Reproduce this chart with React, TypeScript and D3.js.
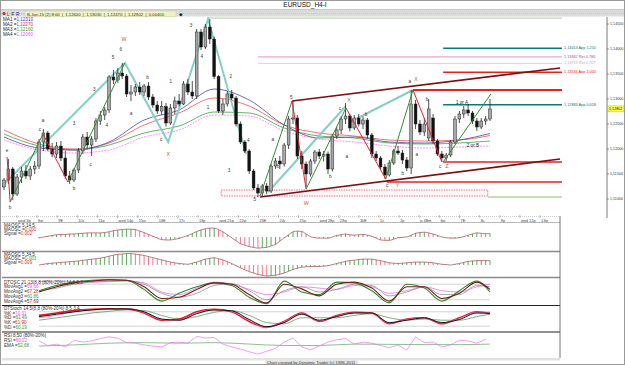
import React from 'react';
import * as d3 from 'd3';

// H4 candles: [open, high, low, close]
const candles: number[][] = [
  [1.1124, 1.1142, 1.1118, 1.1138], [1.1138, 1.1180, 1.1130, 1.1160], [1.1160, 1.1164, 1.1098, 1.1110],
  [1.1110, 1.1150, 1.1106, 1.1144], [1.1144, 1.1164, 1.1132, 1.1156], [1.1156, 1.1168, 1.1140, 1.1146],
  [1.1146, 1.1166, 1.1138, 1.1160], [1.1160, 1.1176, 1.1150, 1.1166], [1.1166, 1.1220, 1.1160, 1.1214],
  [1.1214, 1.1240, 1.1196, 1.1232], [1.1232, 1.1236, 1.1196, 1.1200], [1.1200, 1.1212, 1.1184, 1.1190],
  [1.1190, 1.1214, 1.1182, 1.1206], [1.1206, 1.1216, 1.1176, 1.1182], [1.1182, 1.1196, 1.1140, 1.1146],
  [1.1146, 1.1156, 1.1130, 1.1138], [1.1138, 1.1162, 1.1134, 1.1158], [1.1158, 1.1202, 1.1152, 1.1196],
  [1.1196, 1.1230, 1.1190, 1.1224], [1.1224, 1.1234, 1.1200, 1.1208], [1.1208, 1.1226, 1.1186, 1.1220],
  [1.1220, 1.1262, 1.1214, 1.1256], [1.1256, 1.1276, 1.1248, 1.1268], [1.1268, 1.1284, 1.1258, 1.1278],
  [1.1278, 1.1348, 1.1272, 1.1344], [1.1344, 1.1358, 1.1330, 1.1338], [1.1338, 1.1362, 1.1332, 1.1352],
  [1.1352, 1.1372, 1.1340, 1.1346], [1.1346, 1.1350, 1.1304, 1.1310], [1.1310, 1.1328, 1.1296, 1.1314],
  [1.1314, 1.1330, 1.1306, 1.1324], [1.1324, 1.1334, 1.1308, 1.1314], [1.1314, 1.1330, 1.1306, 1.1326],
  [1.1326, 1.1334, 1.1298, 1.1304], [1.1304, 1.1310, 1.1282, 1.1288], [1.1288, 1.1296, 1.1270, 1.1276],
  [1.1276, 1.1296, 1.1268, 1.1285], [1.1285, 1.1292, 1.1245, 1.1252], [1.1252, 1.1290, 1.1248, 1.1282],
  [1.1282, 1.1305, 1.1270, 1.1296], [1.1296, 1.1310, 1.1285, 1.1290], [1.1290, 1.1336, 1.1288, 1.1330],
  [1.1330, 1.1340, 1.1308, 1.1314], [1.1314, 1.1336, 1.1300, 1.1306], [1.1306, 1.1440, 1.1300, 1.1434],
  [1.1434, 1.1440, 1.1398, 1.1404], [1.1404, 1.1450, 1.1400, 1.1444], [1.1444, 1.1460, 1.1410, 1.1420],
  [1.1420, 1.1425, 1.1340, 1.1345], [1.1345, 1.1348, 1.1272, 1.1276], [1.1276, 1.1300, 1.1268, 1.1290],
  [1.1290, 1.1316, 1.1285, 1.1310], [1.1310, 1.1318, 1.1298, 1.1302], [1.1302, 1.1306, 1.1245, 1.1250],
  [1.1250, 1.1255, 1.1210, 1.1214], [1.1214, 1.1218, 1.1192, 1.1196], [1.1196, 1.1200, 1.1150, 1.1156],
  [1.1156, 1.1160, 1.1118, 1.1122], [1.1122, 1.1130, 1.1104, 1.1112], [1.1112, 1.1130, 1.1104, 1.1126],
  [1.1126, 1.1132, 1.1110, 1.1116], [1.1116, 1.1170, 1.1112, 1.1166], [1.1166, 1.1182, 1.1160, 1.1176],
  [1.1176, 1.1186, 1.1160, 1.1170], [1.1170, 1.1212, 1.1165, 1.1208], [1.1208, 1.1266, 1.1200, 1.1260],
  [1.1260, 1.1296, 1.1250, 1.1262], [1.1262, 1.1268, 1.1180, 1.1186], [1.1186, 1.1196, 1.1160, 1.1170],
  [1.1170, 1.1175, 1.1124, 1.1150], [1.1150, 1.1180, 1.1145, 1.1176], [1.1176, 1.1198, 1.1170, 1.1194],
  [1.1194, 1.1200, 1.1180, 1.1186], [1.1186, 1.1196, 1.1175, 1.1190], [1.1190, 1.1195, 1.1150, 1.1160],
  [1.1160, 1.1230, 1.1155, 1.1226], [1.1226, 1.1245, 1.1220, 1.1238], [1.1238, 1.1266, 1.1230, 1.1260],
  [1.1260, 1.1292, 1.1250, 1.1266], [1.1266, 1.1270, 1.1235, 1.1242], [1.1242, 1.1268, 1.1238, 1.1262],
  [1.1262, 1.1270, 1.1245, 1.1250], [1.1250, 1.1265, 1.1240, 1.1258], [1.1258, 1.1262, 1.1222, 1.1228],
  [1.1228, 1.1232, 1.1182, 1.1190], [1.1190, 1.1196, 1.1176, 1.1182], [1.1182, 1.1186, 1.1160, 1.1164],
  [1.1164, 1.1170, 1.1140, 1.1148], [1.1148, 1.1178, 1.1145, 1.1172], [1.1172, 1.1200, 1.1168, 1.1196],
  [1.1196, 1.1206, 1.1188, 1.1192], [1.1192, 1.1198, 1.1170, 1.1178], [1.1178, 1.1184, 1.1156, 1.1162],
  [1.1162, 1.1318, 1.1150, 1.1290], [1.1290, 1.1298, 1.1240, 1.1250], [1.1250, 1.1258, 1.1228, 1.1234],
  [1.1234, 1.1262, 1.1226, 1.1250], [1.1222, 1.1300, 1.1216, 1.1280], [1.1262, 1.1270, 1.1210, 1.1216],
  [1.1216, 1.1220, 1.1186, 1.1190], [1.1190, 1.1196, 1.1174, 1.1182], [1.1182, 1.1192, 1.1176, 1.1188],
  [1.1188, 1.1218, 1.1184, 1.1214], [1.1214, 1.1266, 1.1210, 1.1260], [1.1260, 1.1276, 1.1252, 1.1270],
  [1.1270, 1.1286, 1.1262, 1.1278], [1.1278, 1.1290, 1.1266, 1.1272], [1.1272, 1.1276, 1.1250, 1.1256],
  [1.1256, 1.1262, 1.1236, 1.1244], [1.1244, 1.1262, 1.1240, 1.1256], [1.1256, 1.1266, 1.1248, 1.1260],
  [1.1260, 1.1300, 1.1256, 1.1280],
];

// moving averages, read every 8 bars
const maIdx = [0, 8, 16, 24, 32, 40, 48, 56, 64, 72, 80, 88, 96, 104, 111];
const ma1 = [1.1224, 1.1202, 1.1198, 1.1214, 1.1258, 1.1278, 1.1320, 1.1298, 1.1248, 1.1222, 1.1224, 1.1214, 1.1212, 1.1218, 1.1231];
const ma2 = [1.1238, 1.1210, 1.1200, 1.1212, 1.1248, 1.1272, 1.1302, 1.1286, 1.1248, 1.1232, 1.1226, 1.1218, 1.1216, 1.1218, 1.1227];
const ma3 = [1.1230, 1.1206, 1.1198, 1.1208, 1.1232, 1.1246, 1.1274, 1.1272, 1.1242, 1.1226, 1.1222, 1.1212, 1.1210, 1.1212, 1.1216];
const ma4 = [1.1218, 1.1198, 1.1192, 1.1198, 1.1224, 1.1238, 1.1268, 1.1266, 1.1236, 1.1220, 1.1214, 1.1206, 1.1202, 1.1204, 1.1206];

const priceTicks = [1.145, 1.14, 1.135, 1.13, 1.125, 1.12, 1.115, 1.11];
const lastPrice = 1.12802;

const dayLabels = ['wed 3p', '8w', '9E', '10c', '11p', 'wed 14p', '15w', '16E', '17c', '18p', 'wed 21p', '22w', '23E',
  '24c', '25p', 'wed 28p', '29w', '30E', '1c', '2p', 'p 4Bm', '6w', '7E', '8c', '9p', 'wed 12p', '13w'];

// wave legs: [bar index, price]
const tealLegs = [
  [[-0.9, 1.1122], [27.6, 1.1372], [37.5, 1.1214], [46.6, 1.146], [55.3, 1.119]],
  [[60.3, 1.1114], [78.1, 1.1286]],
  [[79, 1.1254], [93.4, 1.1318]],
];
const greenLegs = [
  [[1.4, 1.1094], [8.9, 1.123]], [[14.6, 1.1134], [27.6, 1.1372]], [[58.5, 1.1106], [65.8, 1.1296]],
  [[69, 1.112], [78.1, 1.1282]], [[87.2, 1.114], [93.4, 1.1318]], [[100.3, 1.1174], [111.2, 1.131]],
];
const redLegs = [
  [[0.7, 1.1184], [1.4, 1.1094]], [[8.9, 1.123], [14.6, 1.1134]], [[65.8, 1.1296], [69, 1.112]],
  [[78.1, 1.1282], [87.2, 1.114]], [[93.4, 1.1318], [100, 1.1174]],
];
const channelLegs = [[[58.5, 1.1104], [127, 1.118]], [[65.8, 1.1296], [127, 1.1362]]];

// horizontal projection levels
const levelPrice = [1.1462, 1.14013, 1.13842, 1.13713, 1.13534, 1.1318, 1.12883, 1.1174, 1.1134, 1.1104];
const levelStart = [46.6, 100.3, 58, 58, 100.3, 93.4, 100.3, 100.3, 87.4, 110.5];
const levelLabel = ['', '1,14013 App 1.250', '1,13842 Ret 0.786', '1,13713 Ret 0.707', '1,13534 App 1.000', '', '1,12883 App 0.618', '', '', ''];
const zoneBox = [49.6, 110.5, 1.1118, 1.1106];

const waveLabels: [string, number, number][] = [
  ['e', 0.7, 1.1196], ['b', 1.4, 1.1082], ['c', 8.2, 1.1238], ['a', 8.9, 1.1256], ['b', 16, 1.112], ['3', 16, 1.125],
  ['c', 19.8, 1.1168], ['3', 20.6, 1.1318], ['4', 23.5, 1.1246], ['5', 24.9, 1.1382], ['6', 26.7, 1.1398],
  ['a', 29, 1.127], ['b', 32.8, 1.1342], ['c', 35.9, 1.1218], ['1', 38.1, 1.1334], ['3', 42.7, 1.1446],
  ['4', 45.2, 1.1384], ['1', 46.6, 1.1282], ['2', 51.8, 1.1344], ['3', 51.4, 1.1156], ['4', 55.8, 1.1216],
  ['5', 57.3, 1.1098], ['a', 61.4, 1.1218], ['b', 62.6, 1.1164], ['5', 65.6, 1.1302], ['b', 74.5, 1.1144],
  ['c', 76.7, 1.128], ['a', 78.3, 1.1184], ['b', 82.7, 1.1268], ['c', 87.5, 1.1126], ['b', 91.1, 1.115],
  ['a', 92.7, 1.1334], ['b', 96.6, 1.1298], ['a', 94.3, 1.1188], ['c', 99.6, 1.1164],
];
const brownLabels: [string, number, number][] = [
  ['W', 27.4, 1.1418], ['X', 37.5, 1.1188], ['W', 69, 1.109], ['X', 78.8, 1.1296], ['Y', 89.8, 1.1126],
  ['X', 94.1, 1.1338], ['Z', 101.2, 1.1164],
];
const noteLabels: [string, number, number][] = [['1 or A', 104.6, 1.1292], ['2 or B', 107.1, 1.1206]];

// MAOSC histograms, one value per bar from bar 8
const oscStart = 8;
const maosc1 = [
  -0.0003, 0.0000, 0.0002, 0.0004, 0.0006, 0.0007, 0.0007, 0.0008, 0.0008, 0.0009, 0.0010, 0.0011, 0.0011,
  0.0011, 0.0011, 0.0012, 0.0014, 0.0017, 0.0019, 0.0020, 0.0021, 0.0021, 0.0020, 0.0016, 0.0012, 0.0007,
  0.0002, -0.0003, -0.0007, -0.0008, -0.0008, -0.0006, -0.0004, 0.0000, 0.0004, 0.0009, 0.0015, 0.0019,
  0.0022, 0.0024, 0.0024, 0.0020, 0.0014, 0.0006, -0.0002, -0.0010, -0.0018, -0.0022, -0.0026, -0.0028,
  -0.0030, -0.0029, -0.0028, -0.0024, -0.0020, -0.0011, -0.0002, 0.0006, 0.0014, 0.0016, 0.0015, 0.0008,
  0.0001, -0.0002, -0.0003, -0.0003, -0.0003, 0.0000, 0.0004, 0.0006, 0.0008, 0.0006, 0.0005, 0.0006,
  0.0007, 0.0005, 0.0002, -0.0003, -0.0008, -0.0009, -0.0009, -0.0006, -0.0002, -0.0001, 0.0000, 0.0005,
  0.0010, 0.0012, 0.0013, 0.0011, 0.0008, 0.0004, 0.0000, -0.0002, -0.0003, -0.0003, -0.0002, 0.0001,
  0.0005, 0.0008, 0.0011, 0.0010, 0.0009, 0.0009,
];
const maosc2 = [
  0.0000, 0.0002, 0.0004, 0.0005, 0.0006, 0.0007, 0.0008, 0.0009, 0.0010, 0.0011, 0.0013, 0.0014, 0.0016,
  0.0017, 0.0019, 0.0021, 0.0024, 0.0027, 0.0029, 0.0030, 0.0031, 0.0031, 0.0030, 0.0028, 0.0026, 0.0023,
  0.0020, 0.0017, 0.0014, 0.0011, 0.0008, 0.0006, 0.0004, 0.0003, 0.0002, 0.0005, 0.0008, 0.0012, 0.0016,
  0.0018, 0.0020, 0.0017, 0.0014, 0.0009, 0.0004, -0.0002, -0.0008, -0.0013, -0.0018, -0.0022, -0.0026,
  -0.0028, -0.0030, -0.0029, -0.0028, -0.0025, -0.0022, -0.0017, -0.0012, -0.0009, -0.0006, -0.0005,
  -0.0004, -0.0004, -0.0004, -0.0003, -0.0002, 0.0001, 0.0004, 0.0007, 0.0010, 0.0012, 0.0013, 0.0015,
  0.0016, 0.0016, 0.0016, 0.0014, 0.0012, 0.0009, 0.0006, 0.0005, 0.0004, 0.0005, 0.0006, 0.0007, 0.0008,
  0.0008, 0.0008, 0.0007, 0.0006, 0.0004, 0.0002, 0.0001, 0.0000, 0.0002, 0.0004, 0.0007, 0.0010, 0.0011,
  0.0012, 0.0012, 0.0012, 0.0012,
];

// oscillators read every 4 bars
const stIdx = [8, 12, 16, 20, 24, 28, 32, 36, 40, 44, 48, 52, 56, 60, 64, 68, 72, 76, 80, 84, 88, 92, 96, 100, 104, 108, 111];
const dtoscGreen = [55, 75, 88, 95, 98, 95, 60, 15, 45, 70, 85, 75, 30, 5, 92, 50, 40, 88, 85, 55, 8, 80, 65, 15, 55, 92, 50];
const dtoscRed = [50, 70, 85, 92, 96, 95, 70, 25, 30, 60, 85, 80, 40, 8, 80, 62, 35, 80, 88, 65, 15, 70, 70, 25, 45, 88, 60];
const dtoscGray = [55, 65, 80, 88, 92, 94, 80, 45, 30, 45, 75, 82, 55, 20, 55, 70, 50, 60, 80, 75, 35, 50, 70, 40, 40, 75, 70];
const dtoscPink = [90, 92, 90, 88, 90, 92, 85, 50, 40, 65, 88, 80, 60, 40, 50, 70, 65, 60, 75, 70, 45, 55, 70, 55, 50, 70, 80];
const stochRed = [65, 75, 85, 90, 92, 92, 75, 45, 50, 80, 90, 80, 40, 15, 40, 75, 40, 65, 78, 75, 30, 50, 55, 30, 55, 80, 72];
const stochBlack = [60, 70, 80, 88, 92, 92, 80, 50, 45, 72, 88, 84, 48, 18, 35, 70, 45, 60, 75, 75, 35, 45, 55, 35, 48, 75, 74];
const stochPink = [55, 65, 80, 88, 90, 93, 78, 48, 45, 75, 90, 82, 45, 15, 38, 72, 42, 62, 76, 74, 33, 48, 55, 33, 52, 78, 78];
const stochGreen = [45, 55, 65, 75, 82, 88, 85, 65, 50, 60, 78, 85, 65, 35, 30, 55, 55, 55, 65, 72, 55, 45, 50, 45, 45, 60, 70];

// RSI every 2 bars from bar 8, EMA every 8 bars
const rsiVals = [66, 50, 55, 45, 68, 62, 66, 74, 80, 75, 60, 58, 52, 48, 45, 60, 62, 58, 82, 76, 78, 55, 45, 38, 28, 20,
  30, 40, 62, 76, 45, 35, 48, 62, 70, 74, 55, 62, 58, 50, 42, 52, 34, 80, 60, 62, 45, 52, 68, 66, 58, 72];
const emaIdx = [8, 16, 24, 32, 40, 48, 56, 64, 72, 80, 88, 96, 104, 111];
const emaVals = [48, 52, 58, 60, 58, 60, 55, 50, 50, 55, 54, 53, 53, 55];

const FONT = 'Liberation Sans, DejaVu Sans, sans-serif';

export default function App() {
  const x = d3.scaleLinear().domain([0, candles.length - 1]).range([4, 490]);
  const y = d3.scaleLinear().domain([1.11, 1.145]).range([199, 24]);
  const endIdx = x.invert(562);
  const fmt = (v: number) => d3.format('.5f')(v).replace('.', ',');
  const seg = d3.line<number[]>().x(d => x(d[0])).y(d => y(d[1]));
  const maPath = (vals: number[]) =>
    d3.line<number>().x((_, i) => x(maIdx[i])).y(d => y(d)).curve(d3.curveMonotoneX)(vals) || '';

  const yM1 = d3.scaleLinear().domain([-0.0035, 0.0035]).range([250, 224]);
  const yM2 = d3.scaleLinear().domain([-0.003, 0.003]).range([276, 254]);
  const yS1 = d3.scaleLinear().domain([0, 100]).range([305, 279]);
  const yS2 = d3.scaleLinear().domain([0, 100]).range([331, 307]);
  const yR = d3.scaleLinear().domain([10, 90]).range([357, 334]);
  const dayX = d3.scalePoint<string>().domain(dayLabels).range([17, 540]);

  const stPath = (vals: number[], ys: d3.ScaleLinear<number, number>) =>
    d3.line<number>().x((_, i) => x(stIdx[i])).y(d => ys(d)).curve(d3.curveMonotoneX)(vals) || '';
  const oscPath = (vals: number[], ys: d3.ScaleLinear<number, number>) =>
    d3.line<number>().x((_, i) => x(oscStart + i)).y(d => ys(d)).curve(d3.curveMonotoneX)(vals) || '';

  const levelColor = ['#c8e0b4', '#0a7a78', '#e8a8c8', '#d4d4d4', '#e82020', '#e82020', '#0a7a78', '#e82020', '#e82020', '#88c070'];
  const levelWidth = [1.5, 1.5, 1.2, 1, 1.5, 2, 1.5, 1.5, 1.5, 1];
  const labelColor = ['', '#0a7a78', '#a050a0', '#b0b0b0', '#e82020', '', '#0a7a78', '', '', ''];

  const hist = (vals: number[], ys: d3.ScaleLinear<number, number>, key: string) =>
    vals.map((v, i) => {
      const prev = i > 0 ? vals[i - 1] : v;
      return (
        <line key={key + i} x1={x(oscStart + i)} x2={x(oscStart + i)} y1={ys(0)} y2={ys(v)}
          stroke={v >= prev ? '#5aa85a' : '#f07890'} strokeWidth={1} />
      );
    });

  const small = { fontSize: 4.6, fontFamily: FONT };

  return (
    <svg width={625} height={365} style={{ position: 'absolute', left: 0, top: 0, background: '#fff' }}>
      <defs>
        <clipPath id="main"><rect x={2} y={17} width={605} height={198} /></clipPath>
        <clipPath id="sub"><rect x={2} y={222} width={558} height={136} /></clipPath>
      </defs>
      <rect x={0} y={0} width={625} height={365} fill="#fff" />

      {/* title + toolbar */}
      <text x={305} y={7} textAnchor="middle" fontSize={6.5} fontFamily={FONT} fill="#111">EURUSD_H4-I</text>
      <line x1={0} x2={625} y1={10} y2={10} stroke="#999" />
      <rect x={1} y={10.5} width={623} height={6} fill="#dcdcdc" />
      <line x1={1} x2={624} y1={13.5} y2={13.5} stroke="#c4c4c4" strokeDasharray="1,1" />
      <circle cx={4} cy={13.5} r={1.5} fill="#d02020" />
      <text x={7} y={15.5} {...small} fill="#c02020">L</text>
      <text x={11.5} y={15.5} {...small} fill="#202020">F</text>
      <text x={16} y={15.5} {...small} fill="#2020c0">R</text>
      <rect x={25} y={11} width={151} height={5.5} fill="#eef2c0" stroke="#c8cc90" strokeWidth={0.4} />
      <text x={27} y={15.5} fontSize={4.2} fontFamily={FONT} fill="#333" xmlSpace="preserve">
        {'B-Jan-15 (2) 8:00  |  1,12600  |  1,13030  |  1,12470  |  1,12802  |  0,00400'}
      </text>
      <text x={179} y={15.8} {...small} fill="#222">◆</text>

      {/* main chart */}
      <g clipPath="url(#main)">
        {levelPrice.map((p, i) => (
          <line key={'lv' + i} x1={x(levelStart[i])} x2={x(endIdx)} y1={y(p)} y2={y(p)}
            stroke={levelColor[i]} strokeWidth={levelWidth[i]} />
        ))}
        <rect x={x(zoneBox[0])} width={x(zoneBox[1]) - x(zoneBox[0])} y={y(zoneBox[2])}
          height={y(zoneBox[3]) - y(zoneBox[2])} fill="#fff6f8" stroke="#e05070" strokeWidth={0.8} strokeDasharray="1.5,1" />

        <path d={maPath(ma4)} fill="none" stroke="#ff70ff" strokeWidth={0.8} strokeDasharray="2,1" />
        <path d={maPath(ma3)} fill="none" stroke="#40a040" strokeWidth={0.8} />
        <path d={maPath(ma2)} fill="none" stroke="#e85050" strokeWidth={0.8} />
        <path d={maPath(ma1)} fill="none" stroke="#4848a8" strokeWidth={0.8} />

        {tealLegs.map((leg, i) => (
          <path key={'t' + i} d={seg(leg) || ''} fill="none" stroke="#86cfc5" strokeWidth={2} />
        ))}

        {candles.map(([o, h, l, c], i) => {
          const cx = x(i);
          const up = c >= o;
          const top = y(Math.max(o, c));
          return (
            <g key={'c' + i}>
              <line x1={cx} x2={cx} y1={y(h)} y2={y(l)} stroke="#222" strokeWidth={0.8} />
              <rect x={cx - 1.4} width={2.8} y={top} height={Math.max(0.8, y(Math.min(o, c)) - top)}
                fill={up ? '#a8a8a8' : '#111'} stroke="#222" strokeWidth={0.5} />
            </g>
          );
        })}

        {greenLegs.map((leg, i) => (
          <path key={'g' + i} d={seg(leg) || ''} fill="none" stroke="#2f8f2f" strokeWidth={1} />
        ))}
        {redLegs.map((leg, i) => (
          <path key={'r' + i} d={seg(leg) || ''} fill="none" stroke="#e82030" strokeWidth={1} />
        ))}
        {channelLegs.map((leg, i) => (
          <path key={'ch' + i} d={seg(leg) || ''} fill="none" stroke="#7a1010" strokeWidth={1.6} />
        ))}

        {waveLabels.map(([t, i, p], k) => (
          <text key={'wl' + k} x={x(i)} y={y(p)} textAnchor="middle" dominantBaseline="middle" fontSize={4.6} fontFamily={FONT} fill="#333">{t}</text>
        ))}
        {brownLabels.map(([t, i, p], k) => (
          <text key={'bl' + k} x={x(i)} y={y(p)} textAnchor="middle" dominantBaseline="middle" fontSize={5.2} fontFamily={FONT} fill="#c05a3a">{t}</text>
        ))}
        {noteLabels.map(([t, i, p], k) => (
          <text key={'nl' + k} x={x(i)} y={y(p)} textAnchor="middle" dominantBaseline="middle" fontSize={4.6} fontFamily={FONT} fill="#222">{t}</text>
        ))}
      </g>

      {levelLabel.map((t, i) => t ? (
        <text key={'ll' + i} x={564} y={y(levelPrice[i])} dominantBaseline="middle" fontSize={3.8} fontFamily={FONT} fill={labelColor[i]}>{t}</text>
      ) : null)}

      {/* MA legend */}
      {[ma1, ma2, ma3, ma4].map((m, i) => (
        <text key={'mal' + i} x={3} y={21 + i * 5} {...small} fill="#222">
          {`MA${i + 1} =`}
          <tspan fill={['#3333cc', '#e03030', '#30a030', '#ff44ff'][i]}>{fmt(m[m.length - 1])}</tspan>
        </text>
      ))}

      {/* price axis */}
      <line x1={607} x2={607} y1={17} y2={218} stroke="#555" strokeWidth={0.8} />
      {priceTicks.map(p => (
        <g key={'pt' + p}>
          <line x1={607} x2={609} y1={y(p)} y2={y(p)} stroke="#555" strokeWidth={0.6} />
          <text x={610} y={y(p)} dominantBaseline="middle" fontSize={3.7} fontFamily={FONT} fill="#333">{fmt(p)}</text>
        </g>
      ))}
      <rect x={608} y={y(lastPrice) - 3} width={16} height={6} fill="#ffff50" stroke="#b0b000" strokeWidth={0.4} />
      <text x={609} y={y(lastPrice)} dominantBaseline="middle" fontSize={3.7} fontFamily={FONT} fill="#111">{fmt(lastPrice)}</text>

      {/* time axis */}
      <line x1={2} x2={560} y1={216.5} y2={216.5} stroke="#aaa" strokeWidth={0.6} strokeDasharray="1,1" />
      {dayLabels.map(d => (
        <g key={'d' + d}>
          <line x1={dayX(d)} x2={dayX(d)} y1={215} y2={218} stroke="#777" strokeWidth={0.5} />
          <text x={(dayX(d) || 0) + 1} y={222} fontSize={3.9} fontFamily={FONT} fill="#444">{d}</text>
        </g>
      ))}

      {/* sub panels */}
      <line x1={2} x2={560} y1={222.5} y2={222.5} stroke="#888" strokeWidth={0.6} />
      <g clipPath="url(#sub)">
        {hist(maosc1, yM1, 'h1')}
        <path d={oscPath(maosc1, yM1)} fill="none" stroke="#a04848" strokeWidth={0.7} />
        {hist(maosc2, yM2, 'h2')}
        <path d={oscPath(maosc2, yM2)} fill="none" stroke="#a04848" strokeWidth={0.7} />

        {[80, 20].map(v => (
          <line key={'s1' + v} x1={x(8)} x2={x(111)} y1={yS1(v)} y2={yS1(v)} stroke="#c8c8c8" strokeWidth={0.8} />
        ))}
        <path d={stPath(dtoscPink, yS1)} fill="none" stroke="#f070f0" strokeWidth={0.8} />
        <path d={stPath(dtoscGray, yS1)} fill="none" stroke="#909090" strokeWidth={0.8} />
        <path d={stPath(dtoscGreen, yS1)} fill="none" stroke="#2e8b2e" strokeWidth={1.1} />
        <path d={stPath(dtoscRed, yS1)} fill="none" stroke="#7a1a1a" strokeWidth={1.1} />

        {[80, 20].map(v => (
          <line key={'s2' + v} x1={x(8)} x2={x(111)} y1={yS2(v)} y2={yS2(v)} stroke="#c8c8c8" strokeWidth={0.8} />
        ))}
        <path d={stPath(stochGreen, yS2)} fill="none" stroke="#58a058" strokeWidth={0.8} />
        <path d={stPath(stochRed, yS2)} fill="none" stroke="#f01818" strokeWidth={1.6} />
        <path d={stPath(stochPink, yS2)} fill="none" stroke="#f070f0" strokeWidth={0.8} />
        <path d={stPath(stochBlack, yS2)} fill="none" stroke="#111" strokeWidth={1} />

        <path d={d3.line<number>().x((_, i) => x(emaIdx[i])).y(d => yR(d)).curve(d3.curveMonotoneX)(emaVals) || ''}
          fill="none" stroke="#70b070" strokeWidth={0.8} />
        <path d={d3.line<number>().x((_, i) => x(oscStart + i * 2)).y(d => yR(d))(rsiVals) || ''}
          fill="none" stroke="#f070f0" strokeWidth={0.7} />
      </g>

      {/* panel separators */}
      <line x1={2} x2={560} y1={251.5} y2={251.5} stroke="#8a8a8a" strokeWidth={1.4} />
      <line x1={2} x2={560} y1={277.5} y2={277.5} stroke="#8a8a8a" strokeWidth={1.4} />
      <line x1={2} x2={560} y1={305.5} y2={305.5} stroke="#222" strokeWidth={1.2} />
      <line x1={2} x2={560} y1={332} y2={332} stroke="#222" strokeWidth={1.2} />
      <line x1={560} x2={560} y1={216} y2={358} stroke="#555" strokeWidth={0.8} />
      <rect x={2} y={358} width={558} height={2.5} fill="#e2e2e2" />

      {/* panel legends */}
      <g {...small} fill="#333">
        <text x={4} y={227}>MAOSC 5,14,5</text>
        <text x={4} y={231}>MAOSC =<tspan fill="#e03030">0,000</tspan></text>
        <text x={4} y={235}>Signal =<tspan fill="#e03030">0,002</tspan></text>
        <text x={4} y={256}>MAOSC 5,34,5</text>
        <text x={4} y={260}>MAOSC =<tspan fill="#30a030">0,003</tspan></text>
        <text x={4} y={264}>Signal =<tspan fill="#e03030">0,009</tspan></text>
        <text x={4} y={283.5}>DTOSC 21,13(8,8 (80%-20%) 14,8,5,3</text>
        <text x={4} y={288}>MovAvg1 =<tspan fill="#ff44ff">69,66</tspan></text>
        <text x={4} y={292.5}>MovAvg2 =<tspan fill="#c03030">67,28</tspan></text>
        <text x={4} y={297.5}>MovAvg3 =<tspan fill="#30a030">60,86</tspan></text>
        <text x={4} y={302.5}>MovAvg4 =<tspan fill="#7a1a1a">57,69</tspan></text>
        <text x={4} y={310}>DTStoch 14,5(8,8 (80%-20%) 8,5,3,4</text>
        <text x={4} y={314.5}>%K =<tspan fill="#ff44ff">70,31</tspan></text>
        <text x={4} y={319}>%D =<tspan fill="#30a030">61,49</tspan></text>
        <text x={4} y={324}>%K =<tspan fill="#e02020">61,90</tspan></text>
        <text x={4} y={329}>%D =<tspan fill="#30a030">60,19</tspan></text>
        <text x={4} y={336.5}>RSI 8,50 (80%-20%)</text>
        <text x={4} y={341.5}>RSI =<tspan fill="#ff44ff">60,22</tspan></text>
        <text x={4} y={347}>EMA =<tspan fill="#30a030">52,68</tspan></text>
      </g>

      <rect x={265} y={359.5} width={93} height={5} fill="#e6e6e6" />
      <text x={311} y={363.6} textAnchor="middle" fontSize={4.2} fontFamily={FONT} fill="#333">
        Chart created by Dynamic Trader (c) 1996-2011
      </text>

      <rect x={0.5} y={0.5} width={624} height={364} fill="none" stroke="#9a9a9a" />
    </svg>
  );
}
